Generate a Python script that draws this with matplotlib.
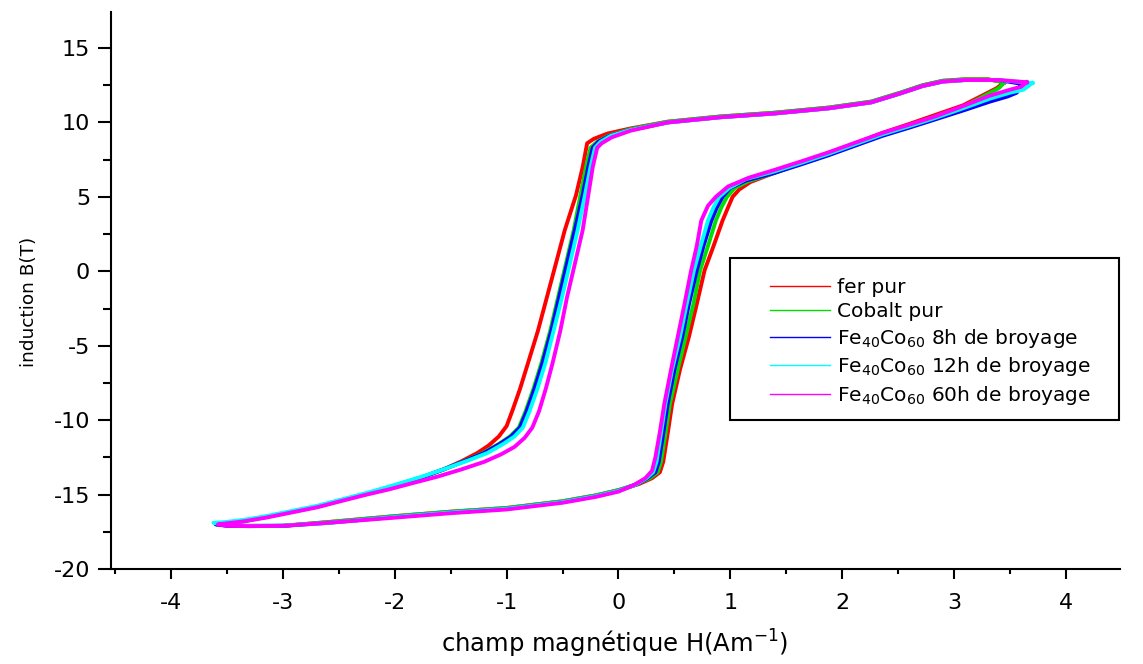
import matplotlib
matplotlib.use("Agg")
import matplotlib.pyplot as plt
from matplotlib.lines import Line2D
from matplotlib.patches import Rectangle
from matplotlib.ticker import MultipleLocator

plt.rcParams['font.family'] = ['DejaVu Sans']
plt.rcParams['mathtext.fontset'] = 'dejavusans'
plt.rcParams['axes.unicode_minus'] = False

# ---------------- data ----------------
labels = ['fer pur', 'Cobalt pur',
          'Fe$_{40}$Co$_{60}$ 8h de broyage',
          'Fe$_{40}$Co$_{60}$ 12h de broyage',
          'Fe$_{40}$Co$_{60}$ 60h de broyage']
colors = ['#ff0000', '#00e000', '#0000ff', '#00ffff', '#ff00ff']

fer_H = [3.45, 3.30, 3.10, 2.90, 2.72, 2.52, 2.26, 1.88, 1.39, 0.91, 0.44, 0.11, -0.10, -0.22, -0.28,
         -0.32, -0.38, -0.48, -0.56, -0.64, -0.72, -0.81, -0.88, -0.95, -1.00, -1.07, -1.16, -1.26,
         -1.40, -1.56, -1.76, -2.00, -2.23, -2.46, -2.69, -2.92, -3.15, -3.35, -3.50,
         -3.40, -3.00, -2.60, -2.00, -1.50, -1.00, -0.50, -0.20, 0.00, 0.18, 0.30, 0.37, 0.40, 0.44,
         0.48, 0.55, 0.63, 0.70, 0.77, 0.85, 0.93, 0.98, 1.02, 1.08, 1.18, 1.39, 1.64, 1.88, 2.12,
         2.36, 2.60, 2.83, 3.08, 3.25, 3.38, 3.45]
fer_B = [12.7, 12.9, 12.9, 12.8, 12.5, 12.0, 11.4, 11.0, 10.65, 10.4, 10.05, 9.6, 9.25, 8.9, 8.6,
         7.0, 5.1, 2.76, 0.5, -1.75, -4.0, -6.2, -7.9, -9.4, -10.4, -11.1, -11.7, -12.2,
         -12.75, -13.3, -13.85, -14.4, -14.9, -15.35, -15.8, -16.15, -16.5, -16.8, -16.95,
         -17.1, -17.1, -16.85, -16.45, -16.15, -15.9, -15.45, -15.05, -14.7, -14.3, -13.9, -13.5, -12.8, -10.9,
         -8.9, -6.6, -4.4, -2.2, 0.07, 1.7, 3.4, 4.3, 5.0, 5.5, 6.0, 6.6, 7.3, 7.95, 8.6,
         9.3, 9.9, 10.5, 11.15, 11.8, 12.3, 12.7]

co_H = [3.45, 3.30, 3.10, 2.90, 2.72, 2.52, 2.26, 1.88, 1.39, 0.91, 0.44, 0.11, -0.09, -0.19, -0.25,
        -0.29, -0.34, -0.40, -0.47, -0.54, -0.61, -0.69, -0.76, -0.83, -0.89, -0.97, -1.07, -1.21,
        -1.36, -1.56, -1.76, -2.00, -2.23, -2.46, -2.69, -2.92, -3.15, -3.35, -3.52, -3.58,
        -3.45, -3.00, -2.60, -2.00, -1.50, -1.00, -0.50, -0.20, 0.00, 0.16, 0.28, 0.35, 0.38, 0.42,
        0.46, 0.53, 0.60, 0.67, 0.73, 0.80, 0.87, 0.92, 0.97, 1.04, 1.16, 1.39, 1.64, 1.88, 2.12,
        2.36, 2.60, 2.83, 3.08, 3.25, 3.40, 3.45]
co_B = [12.7, 12.9, 12.9, 12.8, 12.5, 12.0, 11.4, 11.0, 10.65, 10.4, 10.05, 9.55, 9.1, 8.7, 8.3,
        7.0, 5.1, 2.76, 0.5, -1.75, -4.0, -6.2, -7.9, -9.4, -10.5, -11.1, -11.6, -12.2,
        -12.7, -13.3, -13.85, -14.4, -14.9, -15.35, -15.8, -16.15, -16.5, -16.75, -16.95, -17.0,
        -17.1, -17.1, -16.85, -16.45, -16.15, -15.9, -15.45, -15.05, -14.7, -14.3, -13.9, -13.5, -12.8, -10.9,
        -8.9, -6.6, -4.4, -2.2, 0.07, 1.7, 3.4, 4.3, 5.0, 5.6, 6.05, 6.6, 7.25, 7.9, 8.55,
        9.2, 9.8, 10.4, 11.05, 11.7, 12.3, 12.7]

fe8_H = [3.60, 3.40, 3.10, 2.90, 2.72, 2.52, 2.26, 1.88, 1.39, 0.91, 0.44, 0.11, -0.08, -0.18, -0.23,
         -0.27, -0.32, -0.39, -0.46, -0.53, -0.60, -0.68, -0.75, -0.82, -0.88, -0.96, -1.06, -1.20,
         -1.36, -1.56, -1.76, -2.00, -2.23, -2.46, -2.69, -2.92, -3.15, -3.35, -3.52, -3.60,
         -3.50, -3.30, -3.00, -2.60, -2.00, -1.50, -1.00, -0.50, -0.20, 0.00, 0.15, 0.26, 0.33, 0.36,
         0.40, 0.44, 0.50, 0.57, 0.63, 0.70, 0.76, 0.83, 0.88, 0.93, 1.00, 1.14, 1.39, 1.64, 1.88,
         2.12, 2.36, 2.60, 2.83, 3.08, 3.32, 3.48, 3.56, 3.60]
fe8_B = [12.6, 12.85, 12.85, 12.75, 12.45, 11.95, 11.35, 10.95, 10.6, 10.35, 10.0, 9.5, 9.1, 8.7, 8.3,
         7.0, 5.1, 2.76, 0.5, -1.75, -4.0, -6.2, -7.9, -9.4, -10.5, -11.1, -11.6, -12.2,
         -12.7, -13.3, -13.85, -14.4, -14.9, -15.35, -15.8, -16.15, -16.5, -16.75, -16.95, -17.0,
         -17.1, -17.12, -17.1, -16.9, -16.5, -16.2, -15.95, -15.5, -15.1, -14.75, -14.35, -13.9, -13.5, -12.8,
         -10.9, -8.9, -6.6, -4.4, -2.2, 0.07, 1.7, 3.4, 4.3, 5.0, 5.6, 6.1, 6.6, 7.2, 7.8,
         8.45, 9.1, 9.65, 10.2, 10.8, 11.4, 11.75, 12.0, 12.6]

fe12_H = [3.70, 3.40, 3.10, 2.90, 2.72, 2.52, 2.26, 1.88, 1.39, 0.91, 0.44, 0.11, -0.07, -0.16, -0.21,
          -0.25, -0.30, -0.365, -0.435, -0.505, -0.58, -0.655, -0.725, -0.795, -0.855, -0.93, -1.03, -1.17,
          -1.34, -1.56, -1.76, -2.00, -2.23, -2.46, -2.69, -2.92, -3.15, -3.35, -3.52, -3.62,
          -3.50, -3.30, -3.00, -2.60, -2.00, -1.50, -1.00, -0.50, -0.20, 0.00, 0.15, 0.25, 0.31, 0.34,
          0.38, 0.42, 0.48, 0.55, 0.61, 0.675, 0.735, 0.80, 0.85, 0.90, 0.99, 1.14, 1.39, 1.64, 1.88,
          2.12, 2.36, 2.60, 2.83, 3.08, 3.32, 3.50, 3.62, 3.70]
fe12_B = [12.65, 12.85, 12.85, 12.75, 12.45, 11.95, 11.35, 10.95, 10.6, 10.35, 10.0, 9.5, 9.1, 8.7, 8.3,
          7.0, 5.1, 2.76, 0.5, -1.75, -4.0, -6.2, -7.9, -9.4, -10.5, -11.1, -11.6, -12.2,
          -12.7, -13.3, -13.8, -14.35, -14.85, -15.3, -15.75, -16.1, -16.45, -16.7, -16.85, -16.9,
          -17.05, -17.1, -17.08, -16.9, -16.5, -16.2, -15.95, -15.5, -15.1, -14.75, -14.35, -13.9, -13.5, -12.8,
          -10.9, -8.9, -6.6, -4.4, -2.2, 0.07, 1.7, 3.4, 4.3, 5.0, 5.6, 6.2, 6.7, 7.3, 7.9,
          8.55, 9.2, 9.75, 10.3, 10.95, 11.6, 12.0, 12.2, 12.65]

fe60_H = [3.65, 3.40, 3.10, 2.90, 2.72, 2.52, 2.26, 1.88, 1.39, 0.91, 0.44, 0.11, -0.06, -0.15, -0.19,
          -0.23, -0.27, -0.32, -0.39, -0.46, -0.52, -0.59, -0.65, -0.71, -0.77, -0.84, -0.93, -1.05,
          -1.20, -1.40, -1.62, -1.85, -2.05, -2.25, -2.46, -2.69, -2.92, -3.15, -3.35, -3.52, -3.58,
          -3.50, -3.30, -3.00, -2.60, -2.00, -1.50, -1.00, -0.50, -0.20, 0.00, 0.14, 0.24, 0.30, 0.33,
          0.37, 0.41, 0.47, 0.53, 0.59, 0.65, 0.70, 0.74, 0.80, 0.87, 0.98, 1.17, 1.39, 1.64, 1.88,
          2.12, 2.36, 2.60, 2.83, 3.08, 3.32, 3.50, 3.60, 3.65]
fe60_B = [12.7, 12.85, 12.85, 12.75, 12.45, 11.95, 11.35, 10.95, 10.6, 10.35, 10.0, 9.45, 9.0, 8.6, 8.3,
          7.0, 5.1, 2.76, 0.5, -1.75, -4.0, -6.2, -7.9, -9.4, -10.5, -11.2, -11.8, -12.3,
          -12.8, -13.3, -13.8, -14.25, -14.65, -15.0, -15.4, -15.85, -16.2, -16.55, -16.8, -16.95, -17.0,
          -17.1, -17.12, -17.1, -16.9, -16.55, -16.25, -16.0, -15.55, -15.15, -14.8, -14.35, -13.9, -13.4, -12.5,
          -10.8, -8.9, -6.6, -4.4, -2.2, 0.07, 1.7, 3.4, 4.4, 5.0, 5.7, 6.3, 6.8, 7.4, 8.0,
          8.65, 9.3, 9.85, 10.4, 11.1, 11.8, 12.2, 12.4, 12.7]

series_H = [fer_H, co_H, fe8_H, fe12_H, fe60_H]
series_B = [fer_B, co_B, fe8_B, fe12_B, fe60_B]

x_ticks = [-4, -3, -2, -1, 0, 1, 2, 3, 4]
y_ticks = [-20, -15, -10, -5, 0, 5, 10, 15]
x_label = 'champ magnétique H(Am$^{-1}$)'
y_label = 'induction B(T)'

# ---------------- figure ----------------
W, H = 1143, 664
fig = plt.figure(figsize=(W / 100, H / 100), dpi=100)
ax = fig.add_axes([111 / W, (H - 569) / H, (1120 - 111) / W, (569 - 12) / H])

for hx, by, c in zip(series_H, series_B, colors):
    ax.plot(hx, by, color=c, lw=2.8, solid_joinstyle='round')

ax.set_xlim(-4.536, 4.483)
ax.set_ylim(-20, 17.42)
ax.set_xticks(x_ticks)
ax.set_yticks(y_ticks)
ax.xaxis.set_minor_locator(MultipleLocator(0.5))
ax.yaxis.set_minor_locator(MultipleLocator(2.5))

for s in ['top', 'right']:
    ax.spines[s].set_visible(False)
for s in ['left', 'bottom']:
    ax.spines[s].set_linewidth(1.5)

ax.tick_params(axis='both', which='both', direction='out', width=1.5, labelsize=16)
ax.tick_params(axis='y', which='major', length=9.5, pad=5.5)
ax.tick_params(axis='y', which='minor', length=5.5)
ax.tick_params(axis='x', which='major', length=7.5, pad=10)
ax.tick_params(axis='x', which='minor', length=3.6)

ax.set_xlabel(x_label, fontsize=17.5)
ax.set_ylabel(y_label, fontsize=13.3)
ax.xaxis.set_label_coords((615 - 111) / 1009, -(628 - 569) / 557)
ax.yaxis.set_label_coords((38 - 111) / 1009, (569 - 302) / 557)

handles = [Line2D([], [], color=c, lw=1.0) for c in colors]
leg = ax.legend(handles, labels, loc='upper left',
                bbox_to_anchor=(770 / W, (H - 278) / H), bbox_transform=fig.transFigure,
                frameon=False, fontsize=14.5, handlelength=3.0, handletextpad=0.35,
                labelspacing=0.27, borderpad=0, borderaxespad=0)
fig.patches.append(Rectangle((730 / W, (H - 420) / H), (1119 - 730) / W, (420 - 258) / H,
                             transform=fig.transFigure, fill=False, ec='black', lw=1.5, zorder=5))

fig.savefig('out.png', dpi=100)
